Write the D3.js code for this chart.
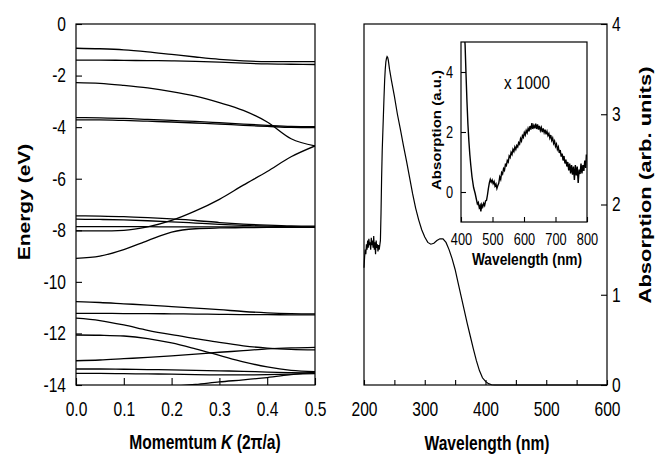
<!DOCTYPE html>
<html>
<head>
<meta charset="utf-8">
<script src="https://cdn.jsdelivr.net/npm/d3@7"></script>
<style>
body { margin: 0; background: #fff; }
svg { display: block; }
</style>
</head>
<body>
<svg id="chart" width="655" height="455"></svg>
<script>
/*-- data --*/
// band structure: energies (eV) on a common momentum grid (2pi/a)
var kGrid = [0, 0.05, 0.1, 0.15, 0.2, 0.25, 0.3, 0.35, 0.4, 0.45, 0.5];
var band01 = [-0.94, -0.96, -1.0, -1.08, -1.18, -1.28, -1.37, -1.43, -1.46, -1.46, -1.46];
var band02 = [-1.40, -1.40, -1.41, -1.42, -1.43, -1.45, -1.48, -1.52, -1.55, -1.56, -1.57];
var band03 = [-2.27, -2.30, -2.38, -2.48, -2.62, -2.80, -3.05, -3.35, -3.80, -4.45, -4.73];
var band04 = [-3.63, -3.64, -3.66, -3.70, -3.74, -3.78, -3.83, -3.88, -3.93, -3.97, -3.98];
var band05 = [-3.72, -3.72, -3.74, -3.77, -3.80, -3.84, -3.88, -3.93, -3.97, -4.01, -4.02];
var band06 = [-8.02, -8.02, -8.00, -7.87, -7.62, -7.25, -6.80, -6.25, -5.72, -5.15, -4.73];
var band07 = [-7.44, -7.45, -7.47, -7.51, -7.56, -7.62, -7.70, -7.76, -7.80, -7.83, -7.84];
var band08 = [-7.57, -7.58, -7.60, -7.63, -7.67, -7.72, -7.77, -7.81, -7.84, -7.86, -7.87];
var band09 = [-7.86, -7.86, -7.86, -7.86, -7.87, -7.87, -7.87, -7.87, -7.88, -7.88, -7.88];
var band10 = [-9.09, -9.00, -8.75, -8.40, -8.07, -7.94, -7.91, -7.90, -7.89, -7.89, -7.89];
var band11 = [-10.77, -10.80, -10.85, -10.90, -10.96, -11.02, -11.08, -11.15, -11.20, -11.23, -11.24];
var band12 = [-11.22, -11.22, -11.23, -11.23, -11.24, -11.25, -11.26, -11.27, -11.27, -11.28, -11.28];
var band13 = [-11.41, -11.50, -11.67, -11.88, -12.05, -12.20, -12.35, -12.48, -12.57, -12.62, -12.64];
var band14 = [-12.06, -12.07, -12.10, -12.20, -12.37, -12.60, -12.85, -13.10, -13.30, -13.43, -13.48];
var band15 = [-13.06, -13.03, -12.98, -12.93, -12.87, -12.80, -12.73, -12.67, -12.60, -12.56, -12.54];
var band16 = [-13.38, -13.38, -13.39, -13.40, -13.41, -13.43, -13.45, -13.47, -13.50, -13.52, -13.53];
var band17 = [-13.55, -13.55, -13.56, -13.57, -13.58, -13.60, -13.61, -13.61, -13.60, -13.58, -13.56];
var band18 = [-14.30, -14.25, -14.18, -14.10, -14.05, -13.98, -13.88, -13.80, -13.71, -13.60, -13.50];
var bands = [band01, band02, band03, band04, band05, band06, band07, band08, band09,
	band10, band11, band12, band13, band14, band15, band16, band17, band18];

// absorption spectrum (main panel)
var specWl = [200, 201, 202, 203, 204, 205, 206, 207, 208, 209, 210, 211, 212, 213, 214, 215, 216, 217, 218, 219,
	220, 221, 222, 223, 224, 225, 226, 227, 228, 229, 230, 231, 232, 233, 234, 235, 236, 237, 238, 239,
	240, 242, 245, 250, 255, 260, 265, 270, 275, 280, 285, 290, 295, 300, 305, 310, 315, 320, 325, 330,
	335, 340, 345, 350, 355, 360, 365, 370, 375, 380, 385, 390, 395, 400, 405, 410, 415, 600];
var specAbs = [1.30, 1.42, 1.50, 1.45, 1.56, 1.50, 1.60, 1.52, 1.62, 1.55, 1.58, 1.50, 1.63, 1.55, 1.60, 1.52, 1.65, 1.50, 1.58, 1.45,
	1.60, 1.52, 1.56, 1.48, 1.55, 1.50, 1.55, 1.60, 1.90, 2.30, 2.60, 2.80, 3.00, 3.20, 3.38, 3.50, 3.58, 3.62, 3.64, 3.63,
	3.60, 3.50, 3.38, 3.20, 3.00, 2.83, 2.65, 2.48, 2.30, 2.12, 1.96, 1.83, 1.72, 1.64, 1.58, 1.56, 1.57, 1.60, 1.62, 1.62,
	1.58, 1.50, 1.40, 1.28, 1.13, 0.98, 0.83, 0.68, 0.54, 0.40, 0.27, 0.16, 0.08, 0.04, 0.015, 0.003, 0, 0];

// inset, x 1000
var insetWl = [410, 413, 416, 419, 422, 425, 428, 431, 435, 440, 445, 449, 452, 455, 458, 461, 463, 466, 469, 472,
	475, 478, 481, 484, 487, 490, 493, 496, 499, 502, 505, 508, 511, 514, 517, 520, 523, 526, 529, 532,
	535, 538, 541, 544, 547, 550, 553, 556, 559, 562, 565, 568, 571, 574, 577, 580, 583, 586, 589, 592,
	595, 598, 601, 604, 607, 610, 613, 616, 619, 622, 625, 628, 631, 634, 637, 640, 643, 646, 649, 652,
	655, 658, 661, 664, 667, 670, 673, 676, 679, 682, 685, 688, 691, 694, 697, 700, 703, 706, 709, 712,
	715, 718, 721, 724, 727, 730, 733, 736, 739, 742, 745, 748, 751, 754, 757, 760, 763, 766, 769, 772,
	775, 778, 781, 784, 787, 790, 793, 796, 798];
var insetAbs = [5.4, 4.9, 3.9, 3.0, 2.25, 1.7, 1.25, 0.9, 0.5, 0.15, -0.05, -0.25, -0.4, -0.35, -0.52, -0.45, -0.65, -0.42, -0.5, -0.38,
	-0.45, -0.3, -0.28, -0.1, 0.12, 0.3, 0.42, 0.33, 0.4, 0.28, 0.35, 0.2, 0.27, 0.12, 0.22, 0.3, 0.5, 0.42, 0.65, 0.6,
	0.78, 0.72, 0.92, 0.88, 1.05, 1.0, 1.2, 1.15, 1.32, 1.25, 1.42, 1.35, 1.5, 1.42, 1.55, 1.5, 1.65, 1.6, 1.78, 1.7,
	1.88, 1.82, 1.98, 1.9, 2.05, 1.97, 2.12, 2.02, 2.2, 2.08, 2.3, 2.1, 2.22, 2.12, 2.28, 2.1, 2.25, 2.08, 2.2, 2.05,
	2.15, 2.0, 2.12, 1.98, 2.08, 1.92, 2.02, 1.88, 1.95, 1.8, 1.9, 1.72, 1.8, 1.62, 1.7, 1.52, 1.6, 1.42, 1.5, 1.3,
	1.4, 1.18, 1.28, 1.05, 1.2, 0.95, 1.08, 0.85, 1.0, 0.72, 0.95, 0.62, 0.9, 0.58, 0.85, 0.4, 0.9, 0.55, 0.85, 0.3,
	0.75, 0.6, 0.95, 0.62, 0.9, 0.7, 1.05, 0.8, 1.25];

// ticks
var kTicks = [0, 0.1, 0.2, 0.3, 0.4, 0.5];
var eTicks = [0, -2, -4, -6, -8, -10, -12, -14];
var wlTicks = [200, 250, 300, 350, 400, 450, 500, 550, 600];
var absTicks = [0, 1, 2, 3, 4];
var insetWlTicks = [400, 500, 600, 700, 800];
var insetAbsTicks = [0, 2, 4];

/*-- setup --*/
var FONT = "'Liberation Sans', Arial, sans-serif";
var SQ = 0.78; // figure text is horizontally squeezed
var svg = d3.select("#chart").style("font-family", FONT);

var xK = d3.scaleLinear().domain([0, 0.5]).range([76, 315]);
var yE = d3.scaleLinear().domain([-14, 0]).range([385, 24]);
var xW = d3.scaleLinear().domain([200, 600]).range([364, 607]);
var yA = d3.scaleLinear().domain([0, 4]).range([385, 24]);
var xI = d3.scaleLinear().domain([400, 800]).range([461, 587]);
var yI = d3.scaleLinear().domain([-1, 5]).range([222, 42]);
var intFmt = function (d) { return String(d); };

var defs = svg.append("defs");
defs.append("clipPath").attr("id", "clipL").append("rect")
	.attr("x", 76).attr("y", 24).attr("width", 239).attr("height", 361);
defs.append("clipPath").attr("id", "clipI").append("rect")
	.attr("x", 461).attr("y", 42).attr("width", 126).attr("height", 180);

//squeeze tick labels
function styleTicks(g, size, sq, xpos, ypos) {
	g.select(".domain").remove();
	g.selectAll("line").attr("stroke", "#000").attr("stroke-width", 1.1);
	var t = g.selectAll("text").attr("fill", "#000").style("font-size", size + "px")
		.attr("transform", "scale(" + sq + ",1)");
	if (xpos !== null) t.attr("x", xpos / sq);
	if (ypos !== null) t.attr("y", ypos);
}

/*-- left panel: band structure --*/
var bandLine = d3.line()
	.x(function (d, i) { return xK(kGrid[i]); })
	.y(function (d) { return yE(d); })
	.curve(d3.curveMonotoneX);

svg.append("g").attr("clip-path", "url(#clipL)")
	.selectAll("path").data(bands).enter().append("path")
	.attr("d", bandLine)
	.attr("fill", "none").attr("stroke", "#000").attr("stroke-width", 1.3);

svg.append("g").attr("transform", "translate(0,385)")
	.call(d3.axisBottom(xK).tickValues(kTicks).tickSizeInner(-7).tickSizeOuter(0).tickFormat(d3.format(".1f")))
	.call(function (g) { styleTicks(g, 20, SQ, null, 16.5); });

svg.append("g").attr("transform", "translate(76,0)")
	.call(d3.axisLeft(yE).tickValues(eTicks).tickSizeInner(-6).tickSizeOuter(0).tickFormat(intFmt))
	.call(function (g) { styleTicks(g, 20, SQ, -10, null); });

svg.append("rect").attr("x", 76).attr("y", 24).attr("width", 239).attr("height", 361)
	.attr("fill", "none").attr("stroke", "#000").attr("stroke-width", 1.2);

/*-- right panel: absorption --*/
var specLine = d3.line()
	.x(function (d, i) { return xW(specWl[i]); })
	.y(function (d) { return yA(d); });

svg.append("path").datum(specAbs).attr("d", specLine)
	.attr("fill", "none").attr("stroke", "#000").attr("stroke-width", 1.2);

svg.append("g").attr("transform", "translate(0,385)")
	.call(d3.axisBottom(xW).tickValues(wlTicks).tickSizeInner(-5).tickSizeOuter(0)
		.tickFormat(function (d) { return d % 100 === 0 ? d : ""; }))
	.call(function (g) { styleTicks(g, 20, SQ, null, 16.5); });

svg.append("g").attr("transform", "translate(607,0)")
	.call(d3.axisRight(yA).tickValues(absTicks).tickSizeInner(-6).tickSizeOuter(0).tickFormat(intFmt))
	.call(function (g) { styleTicks(g, 20, SQ, 5, null); });

svg.append("rect").attr("x", 364).attr("y", 24).attr("width", 243).attr("height", 361)
	.attr("fill", "none").attr("stroke", "#000").attr("stroke-width", 1.2);

/*-- inset --*/
svg.append("rect").attr("x", 461).attr("y", 42).attr("width", 126).attr("height", 180).attr("fill", "#fff");

var insetLine = d3.line()
	.x(function (d, i) { return xI(insetWl[i]); })
	.y(function (d) { return yI(d); });

svg.append("path").datum(insetAbs).attr("d", insetLine).attr("clip-path", "url(#clipI)")
	.attr("fill", "none").attr("stroke", "#000").attr("stroke-width", 1.4);

svg.append("g").attr("transform", "translate(0,222)")
	.call(d3.axisBottom(xI).tickValues(insetWlTicks).tickSizeInner(-5).tickSizeOuter(0).tickFormat(intFmt))
	.call(function (g) { styleTicks(g, 16, 0.8, null, 12); });

svg.append("g").attr("transform", "translate(461,0)")
	.call(d3.axisLeft(yI).tickValues(insetAbsTicks).tickSizeInner(-5).tickSizeOuter(0).tickFormat(intFmt))
	.call(function (g) { styleTicks(g, 16, 0.8, -8, null); });

svg.append("rect").attr("x", 461).attr("y", 42).attr("width", 126).attr("height", 180)
	.attr("fill", "none").attr("stroke", "#000").attr("stroke-width", 1.2);

svg.append("text").attr("transform", "translate(527,89) scale(0.85,1)")
	.attr("text-anchor", "middle").style("font-size", "18px").text("x 1000");

/*-- axis titles --*/
function title(txt, x, y, size, rot, sq) {
	var tr = "translate(" + x + "," + y + ")" + (rot ? " rotate(-90) scale(1," + sq + ")" : " scale(" + sq + ",1)");
	return svg.append("text").attr("transform", tr).attr("text-anchor", "middle")
		.style("font-size", size + "px").style("font-weight", "bold").text(txt);
}

title("Energy (eV)", 30, 202, 21, true, SQ);
var mt = title("Momemtum ", 205, 449, 20, false, SQ);
mt.append("tspan").style("font-style", "italic").text("K");
mt.append("tspan").text(" (2\u03c0/a)");
title("Wavelength (nm)", 487, 450, 20, false, SQ);
title("Absorption (arb. units)", 651, 185, 22, true, SQ);
title("Absorption (a.u.)", 441, 130, 15, true, 0.8);
title("Wavelength (nm)", 527, 265, 16, false, 0.86);
</script>
</body>
</html>
